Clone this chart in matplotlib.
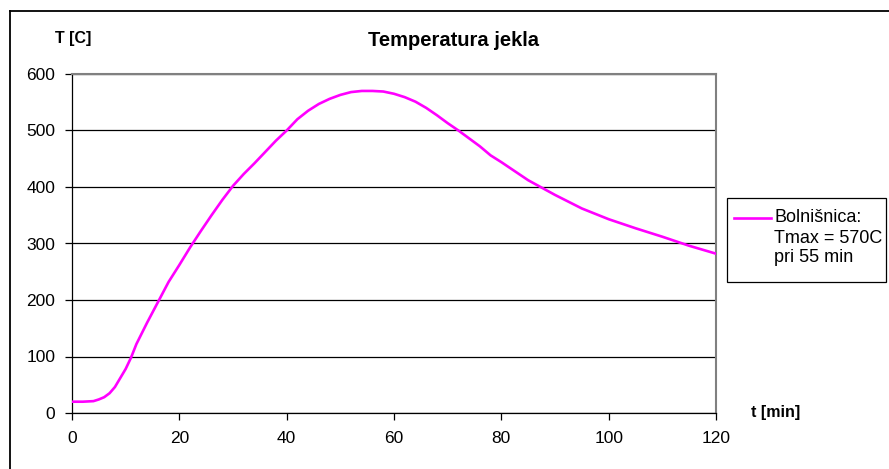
import matplotlib.pyplot as plt
from matplotlib.lines import Line2D
from matplotlib.patches import Rectangle

plt.rcParams['font.family'] = ['Liberation Sans', 'DejaVu Sans']

# time [min] and steel temperature [C]
t_min = [0, 2, 4, 5, 6, 7, 8, 9, 10, 11, 12, 14, 16, 18, 20, 22, 24, 26, 28, 30,
         32, 34, 36, 38, 40, 42, 44, 46, 48, 50, 52, 54, 56, 58, 60, 62, 64, 66,
         68, 70, 72, 74, 76, 78, 80, 85, 90, 95, 100, 105, 110, 115, 120]
temp_c = [20, 20, 21, 24, 28, 35, 46, 62, 78, 98, 122, 160, 196, 232, 262, 293,
          322, 350, 377, 402, 423, 442, 462, 482, 500, 520, 535, 547, 556, 563,
          568, 570, 570, 569, 565, 559, 551, 540, 527, 513, 500, 486, 472, 456,
          444, 412, 386, 362, 343, 327, 312, 296, 282]

x_ticks = [0, 20, 40, 60, 80, 100, 120]
y_ticks = [0, 100, 200, 300, 400, 500, 600]
legend_lines = ['Bolnišnica:', 'Tmax = 570C', 'pri 55 min']

W, H = 889, 469
fig = plt.figure(figsize=(W / 100, H / 100), dpi=100)
ax = fig.add_axes([72 / W, 1 - 413 / H, (716 - 72) / W, (413 - 74) / H])

ax.plot(t_min, temp_c, color='#FF00FF', linewidth=1.9, zorder=3)

ax.set_xlim(0, 120)
ax.set_ylim(0, 600)
ax.set_xticks(x_ticks)
ax.set_yticks(y_ticks)
ax.yaxis.grid(True, color='black', linewidth=0.9)
ax.set_axisbelow(True)
ax.tick_params(direction='out', length=5, width=0.9, labelsize=12.5, colors='black')
ax.tick_params(axis='x', pad=8)
ax.tick_params(axis='y', pad=7)

for side in ['left', 'bottom']:
    ax.spines[side].set_color('black')
    ax.spines[side].set_linewidth(0.9)
for side in ['top', 'right']:
    ax.spines[side].set_color('#808080')
    ax.spines[side].set_linewidth(1.5)

fig.text(453 / W, 1 - 40 / H, 'Temperatura jekla', ha='center', va='center',
         fontsize=14.5, fontweight='bold')
fig.text(55 / W, 1 - 38 / H, 'T [C]', ha='left', va='center',
         fontsize=11.5, fontweight='bold')
fig.text(751 / W, 1 - 412 / H, 't [min]', ha='left', va='center',
         fontsize=11.5, fontweight='bold')

# legend box drawn by hand
fig.add_artist(Rectangle((727 / W, 1 - 282 / H), (886 - 727) / W, (282 - 198) / H,
                         transform=fig.transFigure, fill=False,
                         edgecolor='black', linewidth=0.9))
fig.add_artist(Line2D([734 / W, 771 / W], [1 - 218 / H, 1 - 218 / H],
                      transform=fig.transFigure, color='#FF00FF', linewidth=1.9))
for i, txt in enumerate(legend_lines):
    fig.text(774 / W, 1 - (218 + 20 * i) / H, txt, ha='left', va='center',
             fontsize=13)

# outer chart border (top and left only visible)
fig.add_artist(Line2D([10 / W, 1.0], [1 - 11 / H, 1 - 11 / H],
                      transform=fig.transFigure, color='black', linewidth=1.3))
fig.add_artist(Line2D([10 / W, 10 / W], [0.0, 1 - 11 / H],
                      transform=fig.transFigure, color='black', linewidth=1.3))

fig.savefig('out.png', dpi=100)
